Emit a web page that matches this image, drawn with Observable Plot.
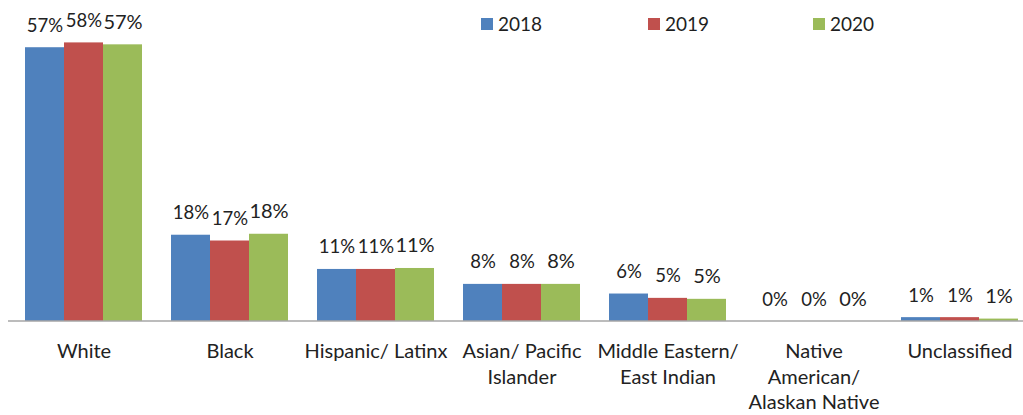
<!DOCTYPE html>
<html>
<head>
<meta charset="utf-8">
<script src="https://cdn.jsdelivr.net/npm/d3@7"></script>
<script src="https://cdn.jsdelivr.net/npm/@observablehq/plot@0.6"></script>
<style>
  html, body { margin: 0; padding: 0; background: #fff; overflow: hidden; }
  #wrap { position: relative; width: 1023px; height: 415px; overflow: hidden; font-family: Lato, sans-serif; }
  #wrap svg { max-width: none !important; }
  .leg { position: absolute; top: 12px; font-size: 19px; color: #1f1f1f; display: flex; align-items: center; }
  .leg span.sw { display: inline-block; width: 12px; height: 12px; margin-right: 5px; }
</style>
</head>
<body>
<div id="wrap"></div>
<script>
const categories = ["White", "Black", "Hispanic/ Latinx", "Asian/ Pacific Islander", "Middle Eastern/ East Indian", "Native American/ Alaskan Native", "Unclassified"];
const categoryLabels = ["White", "Black", "Hispanic/ Latinx", "Asian/ Pacific\nIslander", "Middle Eastern/\nEast Indian", "Native\nAmerican/\nAlaskan Native", "Unclassified"];
const years = ["2018", "2019", "2020"];
const colors = ["#4F81BD", "#C0504D", "#9BBB59"];
const values2018 = [56.8, 17.9, 10.8, 7.7, 5.7, 0, 0.8];
const values2019 = [57.8, 16.7, 10.8, 7.7, 4.8, 0, 0.8];
const values2020 = [57.4, 18.1, 11.0, 7.7, 4.6, 0, 0.5];

const series = [values2018, values2019, values2020];
const data = [];
categories.forEach((c, i) => {
  years.forEach((y, j) => data.push({category: c, year: y, value: series[j][i]}));
});

const plot = Plot.plot({
  width: 1041,
  height: 415,
  marginLeft: 10,
  marginRight: 9,
  marginTop: 31.8,
  marginBottom: 94,
  style: {fontFamily: "Lato, sans-serif", background: "#fff", maxWidth: "none"},
  fx: {domain: categories, paddingInner: 0.2, paddingOuter: 0.1, axis: null},
  x: {domain: years, padding: 0, axis: null},
  y: {domain: [0, 60], axis: null},
  color: {domain: years, range: colors},
  marks: [
    Plot.barY(data, {fx: "category", x: "year", y: "value", fill: "year"}),
    Plot.text(data.filter(d => d.year !== "2020"), {
      fx: "category", x: "year", y: "value",
      text: d => Math.round(d.value) + "%",
      lineAnchor: "bottom", dy: -16, fontSize: 18.5, fill: "#222"
    }),
    Plot.text(data.filter(d => d.year === "2020"), {
      fx: "category", x: "year", y: "value",
      text: d => Math.round(d.value) + "%",
      lineAnchor: "bottom", dy: -16, fontSize: 20, fill: "#222"
    }),
    Plot.text(categories, {
      fx: d => d, text: (d, i) => categoryLabels[i],
      frameAnchor: "bottom", lineAnchor: "top", dy: 19,
      fontSize: 20, lineHeight: 1.26, fill: "#222"
    })
  ]
});
plot.style.maxWidth = "none";
plot.style.height = "415px";
plot.style.width = "1041px";

const y0 = plot.scale("y").apply(0);
d3.select(plot).append("line")
  .attr("x1", 8).attr("x2", 1041)
  .attr("y1", y0).attr("y2", y0)
  .attr("stroke", "#a6a6a6").attr("stroke-width", 1.5);

const wrap = document.getElementById("wrap");
wrap.appendChild(plot);

const legendX = [481, 648, 813];
years.forEach((yr, i) => {
  const el = document.createElement("div");
  el.className = "leg";
  el.style.left = legendX[i] + "px";
  el.innerHTML = `<span class="sw" style="background:${colors[i]}"></span><span>${yr}</span>`;
  wrap.appendChild(el);
});
</script>
</body>
</html>
